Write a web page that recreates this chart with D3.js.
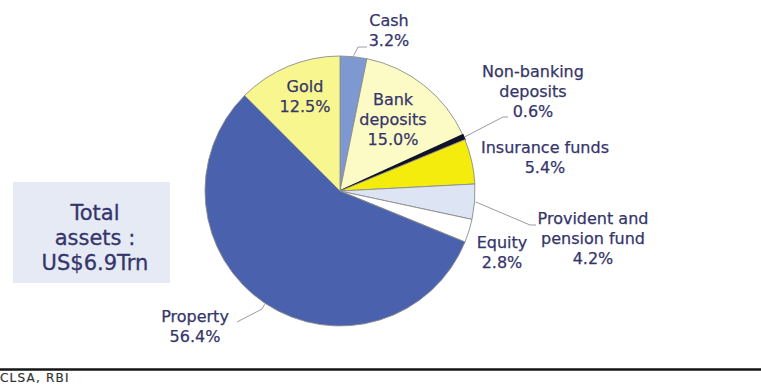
<!DOCTYPE html>
<html>
<head>
<meta charset="utf-8">
<script src="https://cdn.jsdelivr.net/npm/d3@7"></script>
<style>
  html, body { margin: 0; padding: 0; background: #ffffff; }
  svg { display: block; }
  text { font-family: "DejaVu Sans", Verdana, sans-serif; }
</style>
</head>
<body>
<svg id="chart" width="761" height="392"></svg>
<script>
// Household asset mix (share of total, %), clockwise from 12 o'clock
const categories = ["Cash", "Bank deposits", "Non-banking deposits", "Insurance funds",
                    "Provident and pension fund", "Equity", "Property", "Gold"];
const shares = [3.2, 15.0, 0.6, 5.4, 4.2, 2.8, 56.4, 12.5];
const labelLines = [
  ["Cash"], ["Bank", "deposits"], ["Non-banking", "deposits"], ["Insurance funds"],
  ["Provident and", "pension fund"], ["Equity"], ["Property"], ["Gold"]
];
const totalLines = ["Total", "assets :", "US$6.9Trn"];
const sourceText = "CLSA, RBI";

// Styling and label placement
const colors = ["#7e98d1", "#fcfbc6", "#12122a", "#f4ec0c", "#dde4f4", "#ffffff", "#4a62ad", "#f8f68e"];
const labelPos = [
  {x: 389, y: 26}, {x: 393, y: 105}, {x: 533, y: 77}, {x: 545, y: 153},
  {x: 593, y: 224}, {x: 502, y: 248}, {x: 195, y: 322}, {x: 305, y: 92}
];
// leader line end points for labels placed outside the pie (null = none)
const leaders = [
  [[358, 47], [367, 47]], null, [[503, 117], [508, 117]], null,
  [[530, 225], [536, 225]], null, [[262, 309], [237, 322]], null
];

const svg = d3.select("#chart");
const cx = 340, cy = 191, R = 135;
const textColor = "#35356a";

const pie = d3.pie().sort(null).value(d => d).startAngle(0).endAngle(2 * Math.PI);
const arcs = pie(shares);
const arc = d3.arc().innerRadius(0).outerRadius(R);

const g = svg.append("g").attr("transform", `translate(${cx},${cy})`);
g.selectAll("path.slice")
  .data(arcs)
  .join("path")
  .attr("class", "slice")
  .attr("d", arc)
  .attr("fill", (d, i) => colors[i])
  .attr("stroke", (d, i) => i === 2 ? colors[2] : "#8c8c8c")
  .attr("stroke-width", (d, i) => i === 2 ? 1.6 : 0.9);

// leader lines start on the rim at the slice's mid angle
const polar = (a, r) => [cx + r * Math.sin(a), cy - r * Math.cos(a)];
arcs.forEach((d, i) => {
  if (!leaders[i]) return;
  const mid = (d.startAngle + d.endAngle) / 2;
  const start = polar(mid, R + 1);
  const pts = [start, ...leaders[i]];
  svg.append("path")
    .attr("d", d3.line()(pts))
    .attr("fill", "none")
    .attr("stroke", "#9a9aa6")
    .attr("stroke-width", 1);
});

// slice labels: name lines followed by the share
const fmt = d3.format(".1f");
labelLines.forEach((lines, i) => {
  const all = [...lines, fmt(shares[i]) + "%"];
  const t = svg.append("text")
    .attr("x", labelPos[i].x)
    .attr("y", labelPos[i].y)
    .attr("text-anchor", "middle")
    .attr("font-size", 16)
    .attr("fill", textColor)
    .attr("stroke", textColor)
    .attr("stroke-width", 0.25);
  all.forEach((s, k) => {
    t.append("tspan").attr("x", labelPos[i].x).attr("dy", k === 0 ? 0 : 20).text(s);
  });
});

// total assets box
svg.append("rect")
  .attr("x", 13).attr("y", 182).attr("width", 157).attr("height", 101)
  .attr("fill", "#e5eaf5");
const tt = svg.append("text")
  .attr("x", 95).attr("y", 220)
  .attr("text-anchor", "middle")
  .attr("font-size", 21)
  .attr("fill", textColor)
  .attr("stroke", textColor)
  .attr("stroke-width", 0.3);
totalLines.forEach((s, k) => {
  tt.append("tspan").attr("x", 95).attr("dy", k === 0 ? 0 : 25).text(s);
});

// footer rule and source
svg.append("line")
  .attr("x1", 0).attr("x2", 761).attr("y1", 369.5).attr("y2", 369.5)
  .attr("stroke", "#151515").attr("stroke-width", 2.5);
svg.append("text")
  .attr("x", 0).attr("y", 382)
  .attr("font-size", 12)
  .attr("letter-spacing", 1.2)
  .attr("fill", "#333")
  .attr("stroke", "#333")
  .attr("stroke-width", 0.2)
  .text(sourceText);
</script>
</body>
</html>
